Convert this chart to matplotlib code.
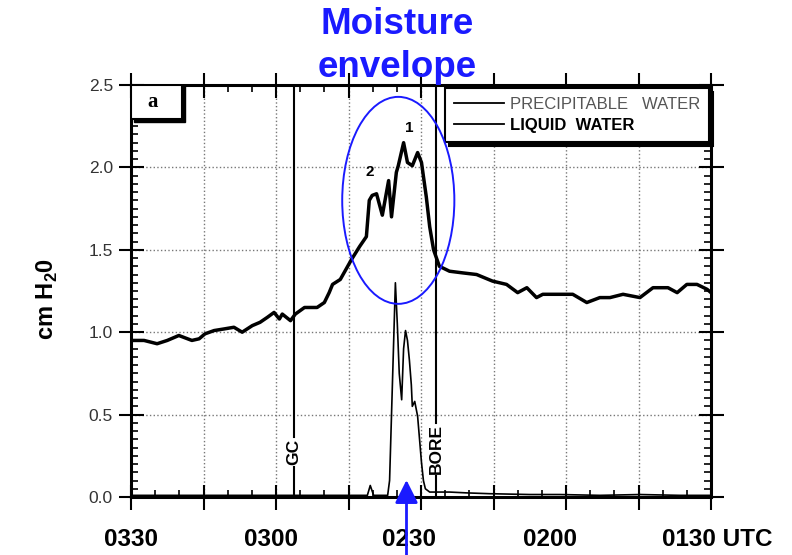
import numpy as np
import matplotlib
matplotlib.use("Agg")
import matplotlib.pyplot as plt
import matplotlib.transforms as mtransforms
from matplotlib.patches import Rectangle, Ellipse

plt.rcParams['font.family'] = ['Liberation Sans', 'DejaVu Sans']
plt.rcParams['mathtext.fontset'] = 'custom'
plt.rcParams['mathtext.bf'] = 'Liberation Sans:bold'
plt.rcParams['mathtext.rm'] = 'Liberation Sans:bold'

# tiempo en minutos despues de 0330 (el eje va de 0330 a 0130)
pw_t = [0.2, 2.7, 5.4, 7.5, 9.9, 12.6, 14.1, 15.3, 17.2, 19.3, 21.3, 23.0, 25.1,
        26.7, 28.2, 29.6, 30.7, 31.3, 33.0, 34.0, 35.9, 38.5, 40.0, 41.0, 41.7,
        43.3, 45.6, 47.3, 48.7, 49.3, 49.9, 50.8, 52.0, 53.3, 53.9, 54.9, 55.3,
        56.4, 57.2, 58.2, 59.3, 60.1, 61.1, 61.8, 62.6, 63.8, 65.9, 68.6, 71.5,
        74.8, 77.7, 80.0, 81.9, 83.9, 85.2, 89.3, 91.4, 94.3, 97.0, 99.1, 101.8,
        105.3, 108.0, 111.1, 113.0, 115.0, 117.1, 119.2, 120.0]
pw_val = [0.95, 0.95, 0.93, 0.95, 0.98, 0.95, 0.96, 0.99, 1.01, 1.02, 1.03, 1.00, 1.04,
          1.06, 1.09, 1.12, 1.08, 1.11, 1.07, 1.11, 1.15, 1.15, 1.18, 1.24, 1.29,
          1.32, 1.44, 1.52, 1.58, 1.80, 1.83, 1.84, 1.71, 1.92, 1.70, 1.97, 2.01,
          2.15, 2.03, 2.01, 2.09, 2.03, 1.82, 1.64, 1.50, 1.40, 1.37, 1.36, 1.35,
          1.31, 1.29, 1.24, 1.27, 1.21, 1.23, 1.23, 1.23, 1.18, 1.21, 1.21, 1.23,
          1.21, 1.27, 1.27, 1.24, 1.29, 1.29, 1.26, 1.24]

lw_t = [0.0, 10.0, 20.0, 30.0, 40.0, 48.9, 49.5, 50.2, 53.1, 53.5, 54.1, 54.7,
        55.1, 55.5, 56.0, 56.4, 56.8, 57.2, 57.6, 58.0, 58.2, 58.7, 58.9, 59.3,
        59.7, 60.1, 60.5, 60.9, 61.8, 65.9, 69.4, 74.2, 82.5, 88.7, 97.0, 105.3,
        113.6, 120.0]
lw_val = [0.01, 0.01, 0.01, 0.01, 0.01, 0.01, 0.07, 0.01, 0.01, 0.10, 0.70, 1.30,
          1.05, 0.75, 0.59, 0.90, 1.01, 0.95, 0.83, 0.68, 0.55, 0.58, 0.55, 0.49,
          0.35, 0.21, 0.10, 0.05, 0.03, 0.03, 0.025, 0.02, 0.015, 0.015, 0.01, 0.015,
          0.01, 0.01]

etiquetas_x = ['0330', '0300', '0230', '0200', '0130 UTC']
marcas = ['GC', 'BORE']
marcas_t = [33.7, 63.1]

fig = plt.figure(figsize=(7.92, 5.55), dpi=100)
ax = fig.add_axes([131 / 792, 1 - 497 / 555, 580 / 792, 412 / 555])

ax.plot(pw_t, pw_val, color='black', lw=2.5, label='PRECIPITABLE   WATER', zorder=3)
ax.plot(lw_t, lw_val, color='black', lw=1.2, label='LIQUID  WATER', zorder=3)

ax.set_xlim(0, 120)
ax.set_ylim(0, 2.5)
ax.set_xticks(np.arange(0, 121, 15))
ax.set_xticks(np.arange(0, 121, 5), minor=True)
ax.set_yticks(np.arange(0, 2.51, 0.5))
ax.set_yticks(np.arange(0, 2.51, 0.05), minor=True)
ax.set_yticklabels(['0.0', '0.5', '1.0', '1.5', '2.0', '2.5'])
ax.tick_params(which='major', direction='inout', length=18, width=1.5,
               top=True, right=True, labelbottom=False, labelsize=12.5,
               labelcolor='#333333', pad=4)
ax.tick_params(which='minor', direction='in', length=5, width=1.2,
               top=True, right=True)
ax.grid(True, which='major', linestyle=':', color='#777777', linewidth=1)
for s in ax.spines.values():
    s.set_linewidth(2.2)

# etiquetas del eje x (texto aparte, como en el original)
trans = mtransforms.blended_transform_factory(ax.transData, fig.transFigure)
pos_x = [-5.6, 23.4, 52.0, 81.0, 109.8]
for t, lab in zip(pos_x, etiquetas_x):
    ax.text(t, 1 - 540 / 555, lab, transform=trans, fontsize=17.5,
            fontweight='bold', ha='left', va='center')

fig.text(47 / 792, 1 - 299 / 555, r'cm H$_{\mathbf{2}}$0', rotation=90,
         fontsize=17, fontweight='bold', ha='center', va='center')

# lineas GC y BORE con hueco para la etiqueta
cortes = [(0.18, 0.365), (0.13, 0.45)]
for t, lab, (y0, y1) in zip(marcas_t, marcas, cortes):
    ax.plot([t, t], [0, y0], color='black', lw=1.5, zorder=3)
    ax.plot([t, t], [y1, 2.5], color='black', lw=1.5, zorder=3)
    ax.text(t, (y0 + y1) / 2, lab, rotation=90, ha='center', va='center',
            fontsize=12.5, fontweight='bold')

ax.text(49.5, 1.97, '2', fontsize=11, fontweight='bold', ha='center', va='center')
ax.text(57.6, 2.24, '1', fontsize=11, fontweight='bold', ha='center', va='center')

# caja "a"
ax.add_patch(Rectangle((0.005, 0.910), 0.088, 0.09, transform=ax.transAxes,
                       fc='black', ec='black', zorder=5))
ax.add_patch(Rectangle((0.0, 0.917), 0.088, 0.083, transform=ax.transAxes,
                       fc='white', ec='black', lw=1.5, zorder=6))
ax.text(0.038, 0.958, 'a', transform=ax.transAxes, fontsize=15, fontweight='bold',
        family='Liberation Serif', ha='center', va='center', zorder=7)

leg = ax.legend(loc='upper left', bbox_to_anchor=(0.541, 0.993, 0.455, 0),
                mode='expand', borderaxespad=0, fancybox=False, edgecolor='black',
                framealpha=1, handlelength=3.0, handletextpad=0.35, labelspacing=0.35,
                borderpad=0.55, prop={'size': 12},
                shadow={'ox': 3, 'oy': -3, 'color': 'black', 'alpha': 1})
leg.get_frame().set_linewidth(1.5)
leg.set_zorder(8)
for h in leg.get_lines():
    h.set_linewidth(1.3)
txts = leg.get_texts()
txts[0].set_color('#555555')
txts[1].set_color('black')
txts[1].set_fontweight('bold')

# anotaciones en azul
ax.add_patch(Ellipse((55.3, 1.80), 23.2, 1.256, fill=False, ec='#1a1aff', lw=1.4,
                     zorder=9, clip_on=False))
ax.annotate('', xy=(57.0, 0.103), xytext=(57.0, -0.45), annotation_clip=False,
            arrowprops=dict(arrowstyle='-|>,head_length=0.7,head_width=0.35',
                            mutation_scale=20, color='#1a1aff', lw=2,
                            shrinkA=0, shrinkB=0), zorder=10)

fig.text(0.501, 1 - 34 / 555, 'Moisture', fontsize=26.5, fontweight='bold',
         color='#1a1aff', ha='center', va='baseline', zorder=10)
fig.text(0.501, 1 - 77 / 555, 'envelope', fontsize=26.5, fontweight='bold',
         color='#1a1aff', ha='center', va='baseline', zorder=10)

fig.savefig('out.png', dpi=100)
